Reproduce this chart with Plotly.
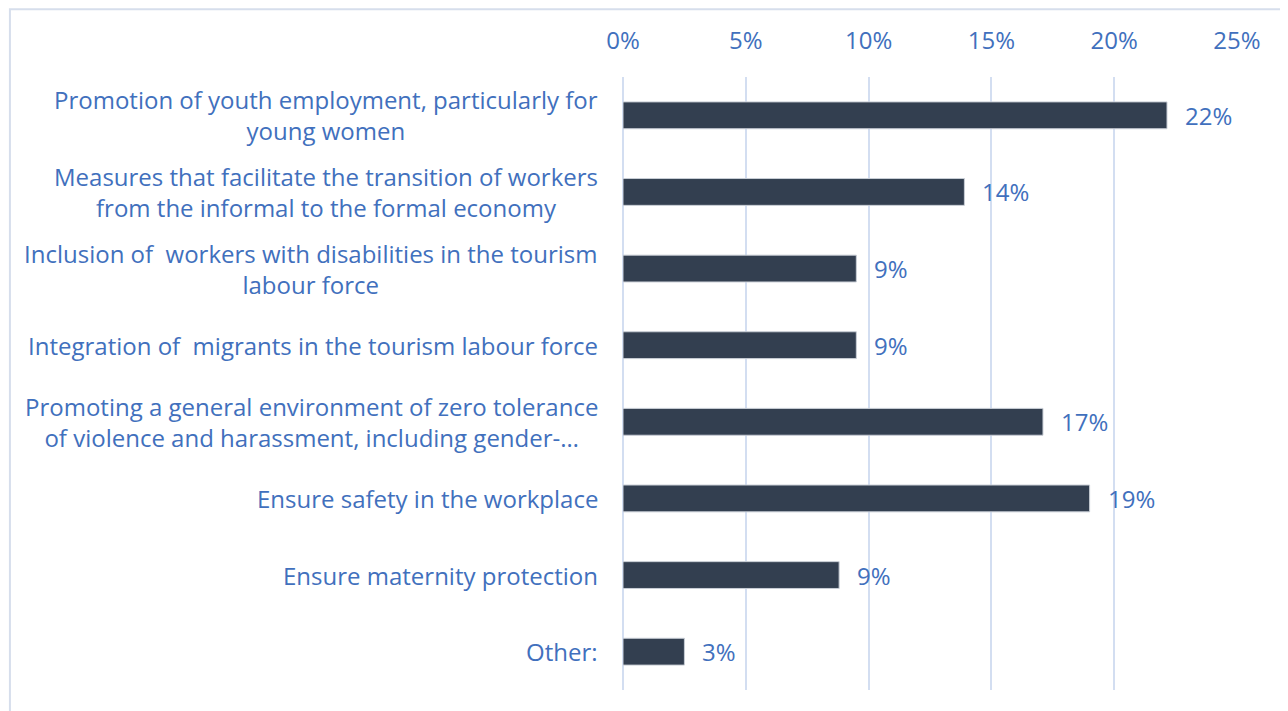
import plotly.graph_objects as go

categories = [
    "Promotion of youth employment, particularly for<br>young women",
    "Measures that facilitate the transition of workers<br>from the informal to the formal economy",
    "Inclusion of  workers with disabilities in the tourism<br>labour force",
    "Integration of  migrants in the tourism labour force",
    "Promoting a general environment of zero tolerance<br>of violence and harassment, including gender-…",
    "Ensure safety in the workplace",
    "Ensure maternity protection",
    "Other:",
]
values = [22.15, 13.9, 9.5, 9.5, 17.1, 19.0, 8.8, 2.5]
value_labels = ["22%", "14%", "9%", "9%", "17%", "19%", "9%", "3%"]
tick_vals = [0, 5, 10, 15, 20, 25]
tick_text = ["0%", "5%", "10%", "15%", "20%", "25%"]

TEXT_BLUE = "#4170BD"
BAR = "#333F50"
GRID = "#D3DEF1"
FONT = "Open Sans"
FS = 24

fig = go.Figure()
fig.add_trace(go.Bar(
    x=values,
    y=categories,
    orientation="h",
    width=0.35,
    marker=dict(color=BAR, line=dict(color="#C9CED6", width=1)),
    hoverinfo="skip",
))

annotations = []
for c, v, lab in zip(categories, values, value_labels):
    annotations.append(dict(
        x=v, y=c, xref="x", yref="y", text=lab, showarrow=False,
        xanchor="left", xshift=16, font=dict(family=FONT, size=FS, color=TEXT_BLUE),
    ))
    annotations.append(dict(
        x=0, y=c, xref="paper", yref="y", text=c, showarrow=False,
        xanchor="right", align="center", xshift=-23,
        font=dict(family=FONT, size=FS, color=TEXT_BLUE),
    ))

fig.update_layout(
    width=1280, height=703,
    margin=dict(l=615, r=51, t=69, b=21),
    paper_bgcolor="white", plot_bgcolor="white",
    showlegend=False,
    font=dict(family=FONT, size=FS, color=TEXT_BLUE),
    annotations=annotations,
    shapes=[dict(
        type="rect", xref="paper", yref="paper",
        x0=-0.9985, x1=1.2, y0=-0.2, y1=1.1105,
        line=dict(color="#D6DEEC", width=2), fillcolor="rgba(0,0,0,0)", layer="below",
    )],
    xaxis=dict(
        side="top", range=[0, 25], tickvals=tick_vals, ticktext=tick_text,
        showgrid=True, gridcolor=GRID, gridwidth=2,
        zeroline=True, zerolinecolor=GRID, zerolinewidth=2,
        showline=False, ticks="", ticklabelstandoff=22,
        tickfont=dict(family=FONT, size=FS, color=TEXT_BLUE),
        fixedrange=True,
    ),
    yaxis=dict(
        categoryorder="array", categoryarray=categories, autorange="reversed",
        showticklabels=False, showgrid=False, zeroline=False, ticks="",
        fixedrange=True,
    ),
)

fig.write_html("out.html")
